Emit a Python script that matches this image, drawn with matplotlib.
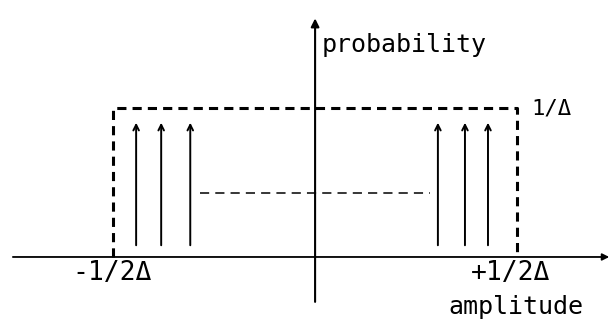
import numpy as np
import matplotlib.pyplot as plt

# uniform quantisation noise pdf, amplitudes in units of delta
half_width = 0.5
height = 1.0
left_pos = [-0.443, -0.381, -0.309]
right_pos = [0.304, 0.371, 0.428]
spike_top = 0.92
spike_bottom = 0.06
mid_level = 0.43
mid_span = [-0.285, 0.285]

fig = plt.figure(figsize=(6.12, 3.34), dpi=100)
ax = fig.add_axes([0, 0, 1, 1])
ax.set_xlim(-0.78, 0.735)
ax.set_ylim(-0.517, 1.725)
ax.axis('off')

# axes
ax.annotate('', xy=(0.735, 0), xytext=(-0.755, 0),
            arrowprops=dict(arrowstyle='-|>', color='black', lw=1.3, mutation_scale=10))
ax.annotate('', xy=(0.0, 1.62), xytext=(0.0, -0.32),
            arrowprops=dict(arrowstyle='-|>', color='black', lw=1.5, mutation_scale=12))

# dashed rectangle
ax.plot([-half_width, -half_width, half_width, half_width],
        [0, height, height, 0], color='black', lw=2.2, ls=(0, (3, 2)))

# spikes
for x in left_pos + right_pos:
    ax.annotate('', xy=(x, spike_top), xytext=(x, spike_bottom),
                arrowprops=dict(arrowstyle='->', color='black', lw=1.4, mutation_scale=10))

ax.plot(mid_span, [mid_level, mid_level], color='black', lw=1.1, ls=(0, (6, 4)))

fnt = 'DejaVu Sans Mono'
ax.text(0.015, 1.42, 'probability', fontsize=18, family=fnt, va='center', ha='left')
ax.text(0.535, 1.0, '1/Δ', fontsize=16, family=fnt, va='center', ha='left')
ax.text(-0.6, -0.11, '-1/2Δ', fontsize=19, family=fnt, va='center', ha='left')
ax.text(0.385, -0.11, '+1/2Δ', fontsize=19, family=fnt, va='center', ha='left')
ax.text(0.33, -0.335, 'amplitude', fontsize=18, family=fnt, va='center', ha='left')

fig.savefig('out.png', dpi=100)
